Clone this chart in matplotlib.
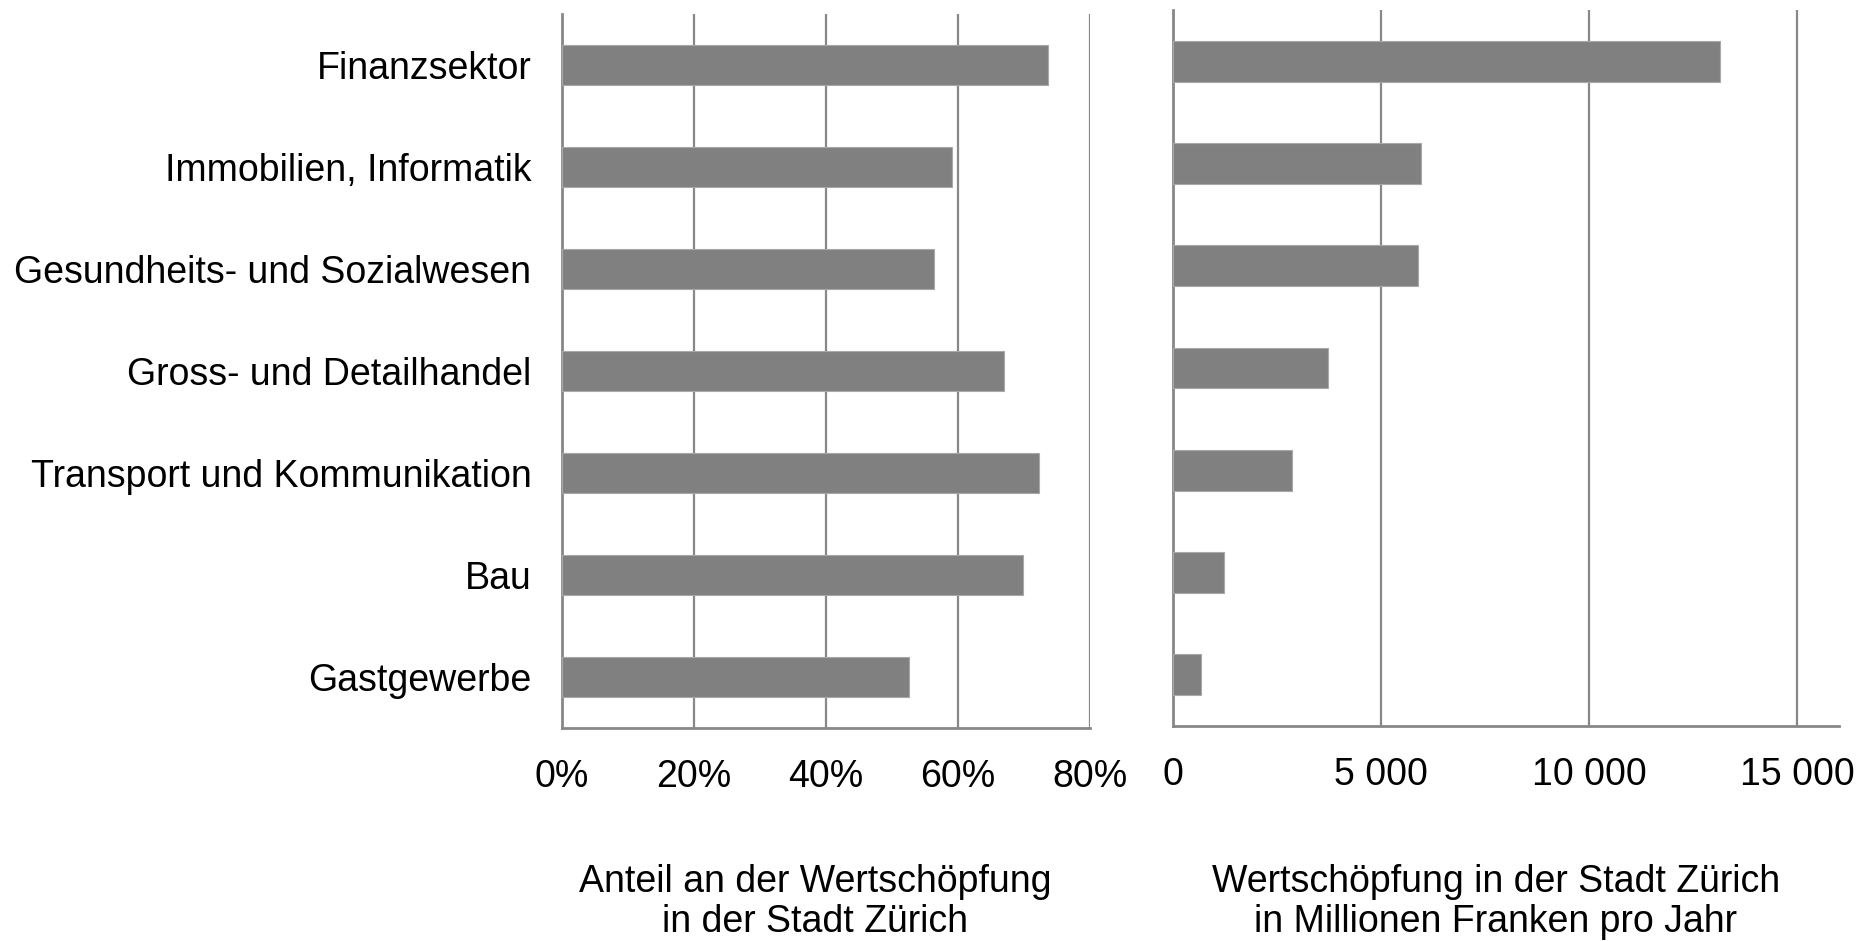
import matplotlib.pyplot as plt
import numpy as np
from matplotlib.ticker import FuncFormatter

plt.rcParams['font.family'] = ['Liberation Sans', 'DejaVu Sans']

# Daten
branchen = ['Finanzsektor', 'Immobilien, Informatik', 'Gesundheits- und Sozialwesen',
            'Gross- und Detailhandel', 'Transport und Kommunikation', 'Bau', 'Gastgewerbe']
anteil = [0.736, 0.591, 0.564, 0.669, 0.722, 0.699, 0.525]          # Anteil an der Wertschoepfung
wertschoepfung = [13150, 5960, 5890, 3730, 2850, 1225, 668]          # Mio. Fr. pro Jahr

barcol = '#808080'
gridcol = '#888888'
fs = 27

fig = plt.figure(figsize=(18.75, 9.41), dpi=100)
ax1 = fig.add_axes([562/1875, 1-728/941, 528/1875, 714/941])
ax2 = fig.add_axes([1173/1875, 1-726/941, 666/1875, 716/941])

y = np.arange(len(branchen))

ax1.barh(y, anteil, height=0.4, color=barcol, edgecolor='#a8a8a8', linewidth=0.8, zorder=3)
ax2.barh(y, wertschoepfung, height=0.4, color=barcol, edgecolor='#a8a8a8', linewidth=0.8, zorder=3)

for ax in (ax1, ax2):
    ax.set_ylim(-0.5, len(branchen)-0.5)
    ax.invert_yaxis()
    for s in ['top', 'right']:
        ax.spines[s].set_visible(False)
    for s in ['left', 'bottom']:
        ax.spines[s].set_color(gridcol)
        ax.spines[s].set_linewidth(2)
    ax.xaxis.grid(True, color=gridcol, linewidth=1.6, zorder=0)
    ax.set_axisbelow(True)
    ax.tick_params(axis='both', length=0, labelsize=fs, pad=22)

ax1.set_xlim(0, 0.8)
ax1.set_xticks([0, 0.2, 0.4, 0.6, 0.8])
ax1.xaxis.set_major_formatter(FuncFormatter(lambda v, p: '%d%%' % round(v*100)))
ax1.set_yticks(y)
ax1.set_yticklabels(branchen)

ax2.set_xlim(0, 16000)
ax2.set_xticks([0, 5000, 10000, 15000])
ax2.xaxis.set_major_formatter(FuncFormatter(lambda v, p: '{:,.0f}'.format(v).replace(',', ' ')))
ax2.set_yticks([])

fig.text(815/1875, 1-902/941, 'Anteil an der Wertschöpfung\nin der Stadt Zürich',
         ha='center', va='center', fontsize=fs, linespacing=1.12)
fig.text(1496/1875, 1-902/941, 'Wertschöpfung in der Stadt Zürich\nin Millionen Franken pro Jahr',
         ha='center', va='center', fontsize=fs, linespacing=1.12)

fig.savefig('out.png', dpi=100)
